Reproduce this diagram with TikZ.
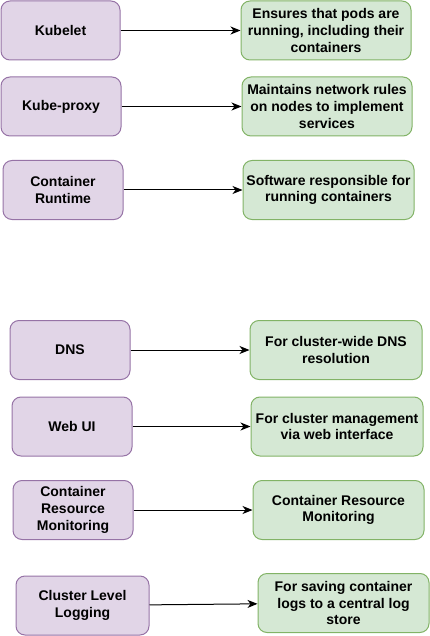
\documentclass[tikz,border=0pt]{standalone}
\usepackage{fontspec}
\setmainfont{Liberation Sans}
\usetikzlibrary{arrows.meta}

\definecolor{compfill}{HTML}{E1D5E7}
\definecolor{compline}{HTML}{9673A6}
\definecolor{descfill}{HTML}{D5E8D4}
\definecolor{descline}{HTML}{82B366}

\tikzset{
  box/.style={rounded corners=9pt, line width=1pt, minimum height=59pt,
    inner sep=0pt, align=center, font=\fontsize{14}{16.8}\selectfont\bfseries},
  comp/.style={box, draw=compline, fill=compfill},
  desc/.style={box, draw=descline, fill=descfill},
}

\begin{document}
\begin{tikzpicture}[x=1pt, y=-1pt]
    \useasboundingbox (0, 0) rectangle (430, 636);

    % Components
    \foreach \i/\x/\y/\w/\txt in {
        1/60.5/30.5/119pt/Kubelet,
        2/61/106.5/120pt/Kube-proxy,
        3/63/190/120pt/{Container\\Runtime},
        4/70/350/120pt/DNS,
        5/72/426.5/120pt/Web UI,
        6/73/510/120pt/{Container\\Resource\\Monitoring},
        7/82.5/605.5/133pt/{Cluster Level\\Logging}} {
      \path (\x, \y) node [comp, minimum width=\w] (c\i) {\txt};
    }

    % Descriptions
    \foreach \i/\x/\y/\w/\txt in {
        1/326/30.5/170pt/{Ensures that pods are\\running, including their\\containers},
        2/327/106.5/170pt/{Maintains network rules\\on nodes to implement\\services},
        3/328.5/190/171pt/{Software responsible for\\running containers},
        4/336/350/172pt/{For cluster-wide DNS\\resolution},
        5/337/426.5/172pt/{For cluster management\\via web interface},
        6/338.5/510/171pt/{Container Resource\\Monitoring},
        7/343.5/603/171pt/{For saving container\\logs to a central log\\store}} {
      \path (\x, \y) node [desc, minimum width=\w] (d\i) {\txt};
    }

    % Connections
    \foreach \i in {1, ..., 7} {
      \draw [line width=1pt, -{Stealth[length=10pt, width=8pt, inset=3pt]}] (c\i) -- (d\i);
    }
\end{tikzpicture}
\end{document}
